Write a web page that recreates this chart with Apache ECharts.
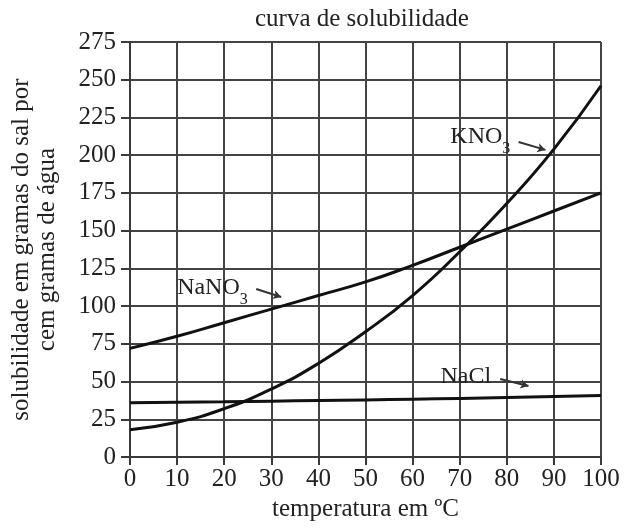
<!DOCTYPE html>
<html>
<head>
<meta charset="utf-8">
<script src="https://cdn.jsdelivr.net/npm/echarts@6/dist/echarts.min.js"></script>
<style>html,body{margin:0;padding:0;background:#fff}#c{width:624px;height:528px}</style>
</head>
<body>
<div id="c"></div>
<script>
const temps = [0, 10, 20, 30, 40, 50, 60, 70, 80, 90, 100];
const kno3 = [18, 23, 32, 45, 62, 83, 107, 136, 168, 204, 246];
const nano3 = [72, 80, 89, 98, 107, 116, 127, 139, 151, 163, 175];
const nacl = [36, 36.3, 36.6, 37, 37.4, 37.8, 38.3, 38.8, 39.4, 40.1, 40.8];
const titleText = 'curva de solubilidade';
const xName = 'temperatura em ºC';
const yName = 'solubilidade em gramas do sal por\ncem gramas de água';
// label anchors [x, y] in data units and arrows [[x1,y1],[x2,y2]]
const kLabel = [67.9, 209.5], kArrow = [[82.5, 208.7], [88.2, 203.5]];
const nLabel = [9.9, 109.3], nArrow = [[26.8, 111.3], [32.1, 106]];
const cLabel = [65.8, 52.3], cArrow = [[78.6, 51.7], [84.6, 47.1]];

const FF = '"Liberation Serif", "Times New Roman", serif';
const rich = {
  m: { fontFamily: FF, fontSize: 24, color: '#222', verticalAlign: 'top', lineHeight: 26 },
  s: { fontFamily: FF, fontSize: 16, color: '#222', verticalAlign: 'bottom', lineHeight: 32 }
};
function pair(arr) { return temps.map((t, i) => [t, arr[i]]); }
function mp(coord, text) {
  return {
    symbol: 'rect', symbolSize: 1, itemStyle: { color: 'rgba(0,0,0,0)' },
    data: [{ coord: coord, label: { show: true, position: 'right', distance: 0, formatter: text, rich: rich } }]
  };
}
function ml(a) {
  return {
    silent: true, symbol: ['none', 'arrow'], symbolSize: [7, 8],
    lineStyle: { color: '#333', width: 2, type: 'solid' },
    label: { show: false },
    data: [[{ coord: a[0] }, { coord: a[1] }]]
  };
}
const chart = echarts.init(document.getElementById('c'));
chart.setOption({
  backgroundColor: '#fff',
  animation: false,
  title: { text: titleText, left: 250, top: 2, textStyle: { fontFamily: FF, fontSize: 25, fontWeight: 'normal', color: '#222' } },
  grid: { left: 128, right: 23, top: 42, bottom: 71 },
  xAxis: {
    type: 'value', min: 0, max: 100, interval: 10,
    name: xName, nameLocation: 'middle', nameGap: 31,
    nameTextStyle: { fontFamily: FF, fontSize: 25, color: '#222' },
    axisLine: { show: true, lineStyle: { color: '#3a3a3a', width: 2 } },
    axisTick: { show: true, length: 8, lineStyle: { color: '#3a3a3a', width: 2 } },
    axisLabel: { fontFamily: FF, fontSize: 25, color: '#222', margin: 10 },
    splitLine: { show: true, lineStyle: { color: '#444', width: 2 } }
  },
  yAxis: {
    type: 'value', min: 0, max: 275, interval: 25,
    name: yName, nameLocation: 'middle', nameGap: 70,
    nameTextStyle: { fontFamily: FF, fontSize: 25, lineHeight: 26, color: '#222' },
    axisLine: { show: true, lineStyle: { color: '#3a3a3a', width: 2 } },
    axisTick: { show: true, length: 9, lineStyle: { color: '#3a3a3a', width: 2 } },
    axisLabel: { fontFamily: FF, fontSize: 25, color: '#222', margin: 14 },
    splitLine: { show: true, lineStyle: { color: '#444', width: 2 } }
  },
  series: [
    { name: 'KNO3', type: 'line', data: pair(kno3), smooth: 0.5, showSymbol: false,
      lineStyle: { color: '#111', width: 3 }, markPoint: mp(kLabel, '{m|KNO}{s|3}'), markLine: ml(kArrow) },
    { name: 'NaNO3', type: 'line', data: pair(nano3), smooth: 0.5, showSymbol: false,
      lineStyle: { color: '#111', width: 3 }, markPoint: mp(nLabel, '{m|NaNO}{s|3}'), markLine: ml(nArrow) },
    { name: 'NaCl', type: 'line', data: pair(nacl), smooth: 0.5, showSymbol: false,
      lineStyle: { color: '#111', width: 3 }, markPoint: mp(cLabel, '{m|NaCl}'), markLine: ml(cArrow) }
  ]
});
</script>
</body>
</html>
